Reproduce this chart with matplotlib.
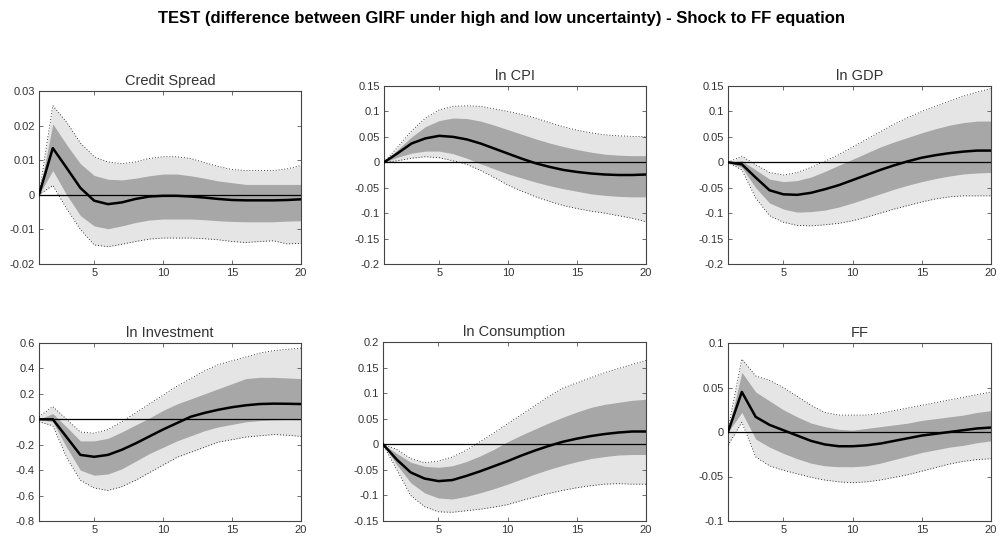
import matplotlib
matplotlib.use("Agg")
import matplotlib.pyplot as plt
import numpy as np

plt.rcParams['font.family'] = ['Liberation Sans', 'DejaVu Sans']

horizon = list(range(1, 21))

titles = ["Credit Spread", "ln CPI", "ln GDP", "ln Investment", "ln Consumption", "FF"]

# --- Credit Spread ---
cs_med = [0, 0.0135, 0.0078, 0.002, -0.0017, -0.0027, -0.0022, -0.0012, -0.0005, -0.0003,
          -0.0003, -0.0005, -0.0008, -0.0012, -0.0015, -0.0016, -0.0016, -0.0016, -0.0015, -0.0013]
cs_d_up = [0, 0.0205, 0.0145, 0.009, 0.0056, 0.0045, 0.0043, 0.0048, 0.0055, 0.006,
           0.006, 0.0055, 0.0048, 0.004, 0.0035, 0.003, 0.003, 0.003, 0.003, 0.003]
cs_d_lo = [0, 0.007, 0.0, -0.006, -0.009, -0.0098, -0.009, -0.008, -0.0073, -0.007,
           -0.007, -0.007, -0.0072, -0.0075, -0.0077, -0.0078, -0.0078, -0.0078, -0.0076, -0.0075]
cs_l_up = [0, 0.0258, 0.021, 0.015, 0.011, 0.0095, 0.009, 0.0095, 0.0105, 0.011,
           0.011, 0.0105, 0.0093, 0.0082, 0.0073, 0.007, 0.007, 0.007, 0.0075, 0.0085]
cs_l_lo = [0, 0.0027, -0.004, -0.010, -0.0145, -0.015, -0.0143, -0.0135, -0.0128, -0.0125,
           -0.0125, -0.0125, -0.0127, -0.013, -0.0135, -0.0138, -0.0135, -0.0133, -0.0142, -0.014]

# --- ln CPI ---
cpi_med = [0, 0.018, 0.037, 0.047, 0.052, 0.05, 0.045, 0.037, 0.027, 0.017,
           0.007, -0.002, -0.009, -0.015, -0.019, -0.022, -0.024, -0.025, -0.025, -0.024]
cpi_d_up = [0, 0.025, 0.05, 0.07, 0.082, 0.087, 0.086, 0.081, 0.073, 0.064,
            0.055, 0.046, 0.038, 0.031, 0.025, 0.02, 0.016, 0.014, 0.013, 0.013]
cpi_d_lo = [0, 0.01, 0.018, 0.022, 0.022, 0.017, 0.008, -0.003, -0.013, -0.023,
            -0.031, -0.039, -0.046, -0.052, -0.057, -0.062, -0.065, -0.067, -0.068, -0.068]
cpi_l_up = [0, 0.03, 0.062, 0.087, 0.103, 0.11, 0.111, 0.11, 0.105, 0.1,
            0.094, 0.087, 0.078, 0.07, 0.063, 0.058, 0.054, 0.052, 0.051, 0.05]
cpi_l_lo = [0, 0.003, 0.008, 0.011, 0.009, 0.003, -0.004, -0.016, -0.03, -0.045,
            -0.057, -0.068, -0.077, -0.085, -0.091, -0.096, -0.1, -0.105, -0.11, -0.117]

# --- ln GDP ---
gdp_med = [0, -0.004, -0.03, -0.055, -0.063, -0.064, -0.06, -0.053, -0.045, -0.035,
           -0.025, -0.015, -0.006, 0.002, 0.009, 0.014, 0.018, 0.021, 0.023, 0.023]
gdp_d_up = [0, 0.003, -0.015, -0.033, -0.038, -0.036, -0.029, -0.018, -0.006, 0.006,
            0.018, 0.03, 0.04, 0.049, 0.058, 0.066, 0.073, 0.078, 0.081, 0.081]
gdp_d_lo = [0, -0.01, -0.05, -0.08, -0.092, -0.098, -0.097, -0.094, -0.088, -0.08,
            -0.071, -0.062, -0.053, -0.045, -0.038, -0.032, -0.027, -0.023, -0.021, -0.02]
gdp_l_up = [0, 0.012, -0.005, -0.02, -0.025, -0.02, -0.01, 0.002, 0.015, 0.03,
            0.045, 0.06, 0.075, 0.088, 0.1, 0.11, 0.12, 0.13, 0.138, 0.145]
gdp_l_lo = [0, -0.015, -0.07, -0.105, -0.118, -0.124, -0.125, -0.123, -0.12, -0.115,
            -0.108, -0.1, -0.092, -0.085, -0.078, -0.072, -0.068, -0.066, -0.066, -0.066]

# --- ln Investment ---
inv_med = [0, 0, -0.14, -0.28, -0.295, -0.28, -0.24, -0.19, -0.135, -0.08,
           -0.03, 0.02, 0.05, 0.075, 0.095, 0.11, 0.12, 0.123, 0.122, 0.12]
inv_d_up = [0, 0.045, -0.06, -0.17, -0.17, -0.15, -0.1, -0.045, 0.01, 0.07,
            0.12, 0.16, 0.2, 0.24, 0.28, 0.32, 0.33, 0.33, 0.325, 0.32]
inv_d_lo = [0, -0.02, -0.22, -0.4, -0.44, -0.43, -0.39, -0.33, -0.27, -0.22,
            -0.17, -0.13, -0.09, -0.06, -0.04, -0.02, -0.01, -0.005, -0.003, -0.005]
inv_l_up = [0.02, 0.1, 0.0, -0.1, -0.11, -0.08, -0.02, 0.05, 0.12, 0.19,
            0.26, 0.32, 0.38, 0.43, 0.46, 0.49, 0.52, 0.54, 0.55, 0.56]
inv_l_lo = [-0.02, -0.05, -0.3, -0.48, -0.54, -0.56, -0.53, -0.48, -0.42, -0.36,
            -0.3, -0.26, -0.22, -0.18, -0.16, -0.14, -0.13, -0.12, -0.125, -0.135]

# --- ln Consumption ---
con_med = [0, -0.03, -0.055, -0.067, -0.072, -0.07, -0.062, -0.053, -0.043, -0.033,
           -0.022, -0.012, -0.003, 0.005, 0.011, 0.016, 0.02, 0.023, 0.025, 0.025]
con_d_up = [0, -0.018, -0.035, -0.043, -0.045, -0.042, -0.034, -0.023, -0.01, 0.005,
            0.018, 0.03, 0.042, 0.053, 0.063, 0.072, 0.078, 0.082, 0.086, 0.088]
con_d_lo = [0, -0.04, -0.075, -0.095, -0.105, -0.107, -0.102, -0.095, -0.087, -0.078,
            -0.068, -0.058, -0.049, -0.041, -0.034, -0.028, -0.024, -0.021, -0.02, -0.02]
con_l_up = [0, -0.01, -0.028, -0.036, -0.033, -0.025, -0.012, 0.005, 0.022, 0.04,
            0.058, 0.076, 0.094, 0.11, 0.12, 0.13, 0.14, 0.148, 0.156, 0.164]
con_l_lo = [0, -0.05, -0.1, -0.122, -0.132, -0.133, -0.13, -0.127, -0.123, -0.118,
            -0.11, -0.103, -0.096, -0.09, -0.085, -0.081, -0.078, -0.077, -0.078, -0.078]

# --- FF ---
ff_med = [0, 0.045, 0.017, 0.008, 0.002, -0.004, -0.01, -0.014, -0.016, -0.016,
          -0.015, -0.013, -0.01, -0.007, -0.004, -0.002, 0.0, 0.002, 0.004, 0.005]
ff_d_up = [0, 0.067, 0.045, 0.035, 0.025, 0.017, 0.01, 0.006, 0.003, 0.002,
           0.004, 0.006, 0.008, 0.01, 0.013, 0.015, 0.017, 0.019, 0.022, 0.024]
ff_d_lo = [0, 0.022, -0.008, -0.017, -0.024, -0.03, -0.035, -0.038, -0.039, -0.039,
           -0.038, -0.035, -0.031, -0.027, -0.023, -0.02, -0.017, -0.015, -0.012, -0.01]
ff_l_up = [0.003, 0.082, 0.063, 0.058, 0.05, 0.04, 0.03, 0.022, 0.019, 0.019,
           0.019, 0.021, 0.024, 0.027, 0.03, 0.033, 0.036, 0.039, 0.042, 0.045]
ff_l_lo = [-0.015, 0.011, -0.028, -0.038, -0.043, -0.047, -0.051, -0.054, -0.056, -0.057,
           -0.056, -0.054, -0.051, -0.048, -0.044, -0.04, -0.036, -0.033, -0.031, -0.03]

series = [
    (cs_med, cs_d_up, cs_d_lo, cs_l_up, cs_l_lo),
    (cpi_med, cpi_d_up, cpi_d_lo, cpi_l_up, cpi_l_lo),
    (gdp_med, gdp_d_up, gdp_d_lo, gdp_l_up, gdp_l_lo),
    (inv_med, inv_d_up, inv_d_lo, inv_l_up, inv_l_lo),
    (con_med, con_d_up, con_d_lo, con_l_up, con_l_lo),
    (ff_med, ff_d_up, ff_d_lo, ff_l_up, ff_l_lo),
]

ylims = [(-0.02, 0.03), (-0.2, 0.15), (-0.2, 0.15), (-0.8, 0.6), (-0.15, 0.2), (-0.1, 0.1)]
yticks = [
    [-0.02, -0.01, 0, 0.01, 0.02, 0.03],
    [-0.2, -0.15, -0.1, -0.05, 0, 0.05, 0.1, 0.15],
    [-0.2, -0.15, -0.1, -0.05, 0, 0.05, 0.1, 0.15],
    [-0.8, -0.6, -0.4, -0.2, 0, 0.2, 0.4, 0.6],
    [-0.15, -0.1, -0.05, 0, 0.05, 0.1, 0.15, 0.2],
    [-0.1, -0.05, 0, 0.05, 0.1],
]
xticks = [5, 10, 15, 20]

W, H = 1002, 537
# pixel boxes: left, right, top, bottom
boxes = [(39, 301, 91, 264), (384, 646, 86, 264), (728, 991, 86, 264),
         (39, 301, 343, 521), (383, 646, 342, 521), (728, 991, 343, 521)]

def fmt(v):
    if v == 0:
        return "0"
    s = ("%.3f" % v).rstrip("0")
    return s

fig = plt.figure(figsize=(W / 100, H / 100), dpi=100)
fig.text(0.5, 1 - 18 / H, "TEST (difference between GIRF under high and low uncertainty) - Shock to FF equation",
         ha="center", va="center", fontsize=12, fontweight="bold", color="black")

light = "#e5e5e5"
dark = "#a7a7a7"
tcol = "#333333"

for i, (name, (med, dup, dlo, lup, llo)) in enumerate(zip(titles, series)):
    l, r, t, b = boxes[i]
    ax = fig.add_axes([l / W, 1 - b / H, (r - l) / W, (b - t) / H])
    x = np.array(horizon)
    ax.fill_between(x, llo, lup, color=light, linewidth=0, zorder=1)
    ax.fill_between(x, dlo, dup, color=dark, linewidth=0, zorder=2)
    ax.plot(x, lup, color="black", linestyle=(0, (1, 2.5)), linewidth=0.6, zorder=3)
    ax.plot(x, llo, color="black", linestyle=(0, (1, 2.5)), linewidth=0.6, zorder=3)
    ax.axhline(0, color="black", linewidth=0.9, zorder=4)
    ax.plot(x, med, color="black", linewidth=1.8, zorder=5)
    ax.set_xlim(1, 20)
    ax.set_ylim(*ylims[i])
    ax.set_xticks(xticks)
    ax.set_yticks(yticks[i])
    ax.set_yticklabels([fmt(v) for v in yticks[i]])
    ax.tick_params(direction="in", length=3, width=0.6, top=True, right=True,
                   labelsize=8, labelcolor=tcol, color="#555555", pad=3)
    for sp in ax.spines.values():
        sp.set_linewidth(0.8)
        sp.set_color("#444444")
    ax.set_title(name, fontsize=10.5, color=tcol, pad=4)

fig.savefig("out.png", dpi=100)
